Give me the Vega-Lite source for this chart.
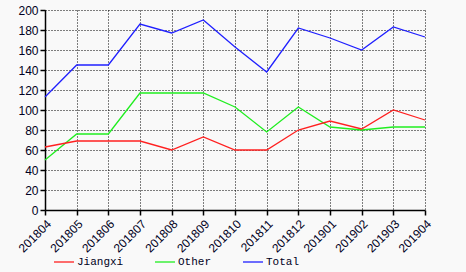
{
  "$schema": "https://vega.github.io/schema/vega-lite/v6.json",
  "width": 380,
  "height": 200,
  "autosize": {"type": "none"},
  "padding": {"left": 45, "top": 10, "right": 41, "bottom": 62},
  "background": "#f9f9f9",
  "config": {
    "view": {"stroke": null},
    "axis": {
      "labelFont": "Liberation Sans",
      "labelFontSize": 11,
      "labelColor": "#000022",
      "domainColor": "#000000",
      "tickColor": "#000000",
      "gridColor": "#000000",
      "gridDash": [1, 2],
      "gridOpacity": 1,
      "gridWidth": 1,
      "domainWidth": 1.5,
      "tickWidth": 1.5,
      "tickSize": 5,
      "title": null
    }
  },
  "data": {
    "values": [
      {"month": "201804", "series": "Total", "value": 113},
      {"month": "201805", "series": "Total", "value": 145},
      {"month": "201806", "series": "Total", "value": 145},
      {"month": "201807", "series": "Total", "value": 186},
      {"month": "201808", "series": "Total", "value": 177},
      {"month": "201809", "series": "Total", "value": 190},
      {"month": "201810", "series": "Total", "value": 163},
      {"month": "201811", "series": "Total", "value": 138},
      {"month": "201812", "series": "Total", "value": 182},
      {"month": "201901", "series": "Total", "value": 172},
      {"month": "201902", "series": "Total", "value": 160},
      {"month": "201903", "series": "Total", "value": 183},
      {"month": "201904", "series": "Total", "value": 173},
      {"month": "201804", "series": "Other", "value": 50},
      {"month": "201805", "series": "Other", "value": 76},
      {"month": "201806", "series": "Other", "value": 76},
      {"month": "201807", "series": "Other", "value": 117},
      {"month": "201808", "series": "Other", "value": 117},
      {"month": "201809", "series": "Other", "value": 117},
      {"month": "201810", "series": "Other", "value": 103},
      {"month": "201811", "series": "Other", "value": 78},
      {"month": "201812", "series": "Other", "value": 103},
      {"month": "201901", "series": "Other", "value": 83},
      {"month": "201902", "series": "Other", "value": 80},
      {"month": "201903", "series": "Other", "value": 83},
      {"month": "201904", "series": "Other", "value": 83},
      {"month": "201804", "series": "Jiangxi", "value": 63},
      {"month": "201805", "series": "Jiangxi", "value": 69},
      {"month": "201806", "series": "Jiangxi", "value": 69},
      {"month": "201807", "series": "Jiangxi", "value": 69},
      {"month": "201808", "series": "Jiangxi", "value": 60},
      {"month": "201809", "series": "Jiangxi", "value": 73},
      {"month": "201810", "series": "Jiangxi", "value": 60},
      {"month": "201811", "series": "Jiangxi", "value": 60},
      {"month": "201812", "series": "Jiangxi", "value": 80},
      {"month": "201901", "series": "Jiangxi", "value": 89},
      {"month": "201902", "series": "Jiangxi", "value": 81},
      {"month": "201903", "series": "Jiangxi", "value": 100},
      {"month": "201904", "series": "Jiangxi", "value": 90}
    ]
  },
  "mark": {"type": "line", "strokeWidth": 1.3},
  "encoding": {
    "x": {
      "field": "month",
      "type": "ordinal",
      "scale": {"type": "point", "padding": 0},
      "axis": {"labelAngle": -45, "grid": true, "labelPadding": 3, "labelFontSize": 12}
    },
    "y": {
      "field": "value",
      "type": "quantitative",
      "scale": {"domain": [0, 200], "nice": false},
      "axis": {"values": [0, 20, 40, 60, 80, 100, 120, 140, 160, 180, 200], "grid": true, "labelFontSize": 12}
    },
    "color": {
      "field": "series",
      "type": "nominal",
      "scale": {"domain": ["Jiangxi", "Other", "Total"], "range": ["#ff2020", "#20ee20", "#2020ff"]},
      "legend": {
        "title": null,
        "orient": "none",
        "direction": "horizontal",
        "legendX": 8,
        "legendY": 241,
        "symbolType": "stroke",
        "symbolSize": 400,
        "symbolStrokeWidth": 1.3,
        "labelFont": "Liberation Mono",
        "labelFontSize": 11,
        "labelColor": "#000022",
        "labelOffset": 2,
        "columnPadding": 28
      }
    }
  }
}
